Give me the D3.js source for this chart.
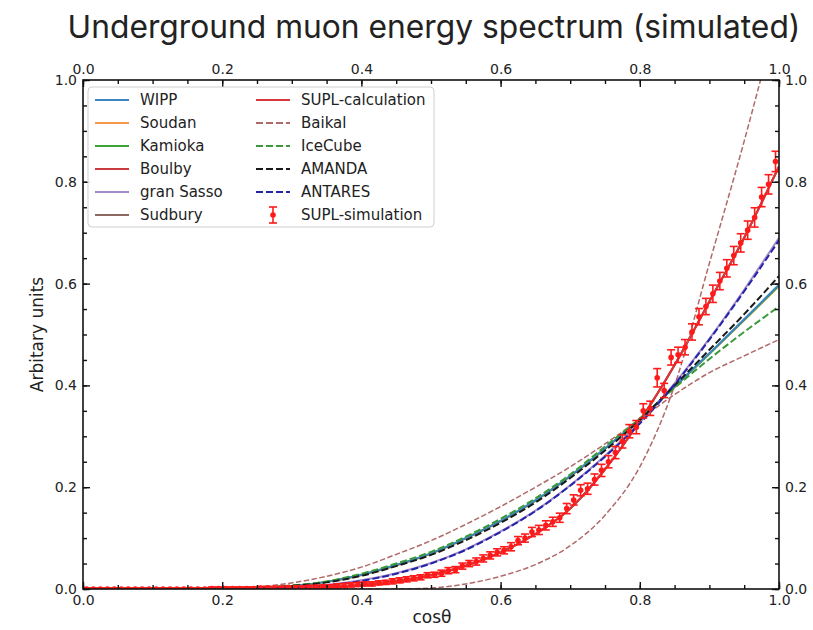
<!DOCTYPE html>
<html>
<head>
<meta charset="utf-8">
<script src="https://cdn.jsdelivr.net/npm/d3@7"></script>
<style>
  body { margin: 0; background: #fff; }
  svg { display: block; }
</style>
</head>
<body>
<svg id="chart" width="813" height="630"></svg>
<script>
// ---- data -------------------------------------------------------------
// model curves, sampled on a common cos(theta) grid
const gridX = [0, 0.05, 0.10, 0.15, 0.20, 0.25, 0.30, 0.35, 0.40, 0.45, 0.50,
               0.55, 0.60, 0.65, 0.70, 0.75, 0.80, 0.85, 0.90, 0.95, 1.00];

const wipp      = [0,0,0,0,0.0005,0.002,0.006,0.014,0.028,0.047,0.070,0.100,0.134,0.174,0.222,0.276,0.334,0.398,0.463,0.530,0.598];
const soudan    = [0,0,0,0,0.0005,0.002,0.006,0.014,0.027,0.046,0.069,0.099,0.133,0.173,0.221,0.275,0.334,0.398,0.462,0.528,0.595];
const kamioka   = [0,0,0,0,0.0005,0.002,0.006,0.014,0.028,0.047,0.070,0.100,0.134,0.174,0.222,0.276,0.334,0.397,0.462,0.529,0.596];
const boulby    = [0,0,0,0,0.0005,0.001,0.002,0.004,0.008,0.015,0.027,0.046,0.072,0.108,0.158,0.235,0.330,0.440,0.565,0.690,0.830];
const granSasso = [0,0,0,0,0.0002,0.001,0.003,0.008,0.017,0.031,0.051,0.078,0.113,0.154,0.204,0.262,0.327,0.404,0.492,0.588,0.690];
const sudbury   = [0,0,0,0,0.0005,0.001,0.002,0.004,0.008,0.015,0.027,0.046,0.072,0.108,0.158,0.235,0.330,0.440,0.565,0.690,0.830];
const suplCalc  = [0,0,0,0,0.0005,0.001,0.002,0.004,0.008,0.015,0.027,0.046,0.072,0.108,0.158,0.235,0.330,0.440,0.565,0.690,0.830];
const baikal    = [0,0,0,0,0,0,0,0,0,0,0.002,0.010,0.025,0.048,0.085,0.145,0.240,0.400,0.640,0.880,1.140];
const baikalB   = [0,0,0,0,0.001,0.004,0.012,0.025,0.043,0.068,0.095,0.127,0.162,0.200,0.240,0.285,0.333,0.382,0.425,0.458,0.490];
const iceCube   = [0,0,0,0,0.0006,0.002,0.007,0.015,0.030,0.050,0.073,0.103,0.138,0.178,0.225,0.280,0.335,0.395,0.452,0.505,0.555];
const amanda    = [0,0,0,0,0.0005,0.002,0.006,0.013,0.026,0.045,0.067,0.096,0.130,0.170,0.218,0.272,0.332,0.400,0.470,0.540,0.615];
const antares   = [0,0,0,0,0.0002,0.001,0.003,0.007,0.016,0.030,0.050,0.077,0.112,0.153,0.203,0.260,0.325,0.402,0.490,0.585,0.685];

// simulated histogram: bin centres 0.005 ... 0.995
const simX = d3.range(100).map(k => +(0.005 + 0.01 * k).toFixed(3));
const simY = [
  0,0,0,0,0,0,0,0,0,0,
  0,0,0,0,0,0,0,0,0.001,0.001,
  0.001,0.001,0.001,0.001,0.001,0.002,0.002,0.002,0.002,0.003,
  0.003,0.003,0.004,0.004,0.005,0.005,0.006,0.007,0.008,0.009,
  0.010,0.010,0.012,0.013,0.015,0.017,0.019,0.021,0.023,0.027,
  0.028,0.031,0.036,0.038,0.045,0.050,0.054,0.060,0.066,0.072,
  0.076,0.083,0.095,0.100,0.112,0.116,0.125,0.132,0.140,0.158,
  0.175,0.194,0.197,0.215,0.233,0.250,0.268,0.290,0.310,0.318,
  0.350,0.355,0.415,0.390,0.455,0.460,0.475,0.505,0.535,0.555,
  0.580,0.605,0.630,0.655,0.680,0.705,0.730,0.770,0.795,0.840
];
const simErr = [
  0.002,0.002,0.002,0.002,0.002,0.002,0.002,0.002,0.002,0.002,
  0.002,0.002,0.002,0.002,0.002,0.002,0.002,0.002,0.003,0.003,
  0.003,0.003,0.003,0.003,0.003,0.003,0.003,0.003,0.003,0.003,
  0.003,0.003,0.003,0.003,0.003,0.003,0.004,0.004,0.004,0.004,
  0.004,0.004,0.004,0.004,0.005,0.005,0.005,0.005,0.005,0.005,
  0.005,0.006,0.006,0.006,0.006,0.006,0.007,0.007,0.007,0.007,
  0.007,0.008,0.008,0.008,0.009,0.009,0.009,0.009,0.009,0.010,
  0.010,0.011,0.011,0.011,0.012,0.012,0.012,0.013,0.013,0.013,
  0.014,0.014,0.018,0.014,0.015,0.015,0.015,0.016,0.016,0.016,
  0.017,0.017,0.017,0.018,0.018,0.018,0.019,0.019,0.019,0.020
];

const tickValues = [0, 0.2, 0.4, 0.6, 0.8, 1.0];
const minorValues = d3.range(0, 1.0001, 0.05);

// ---- series styling (z = drawing order, legend = [column, row]) ----------
const series = [
  { name: "WIPP",             values: wipp,      color: "#3b86bf", dash: null,      width: 2,   z: 3,  legend: [0, 0] },
  { name: "Soudan",           values: soudan,    color: "#f39a4a", dash: null,      width: 2,   z: 1,  legend: [0, 1] },
  { name: "Kamioka",          values: kamioka,   color: "#3aa33a", dash: null,      width: 2,   z: 2,  legend: [0, 2] },
  { name: "Boulby",           values: boulby,    color: "#c83a3e", dash: null,      width: 2,   z: 4,  legend: [0, 3] },
  { name: "gran Sasso",       values: granSasso, color: "#a58ac9", dash: null,      width: 2,   z: 5,  legend: [0, 4] },
  { name: "Sudbury",          values: sudbury,   color: "#8c6a62", dash: null,      width: 2,   z: 0,  legend: [0, 5] },
  { name: "SUPL-calculation", values: suplCalc,  color: "#d9363a", dash: null,      width: 2,   z: 6,  legend: [1, 0] },
  { name: "Baikal",           values: baikal,    color: "#b06a6a", dash: "5.5,2.4", width: 1.5, z: 7,  legend: [1, 1] },
  { name: null,               values: baikalB,   color: "#b06a6a", dash: "5.5,2.4", width: 1.5, z: 8,  legend: null },
  { name: "IceCube",          values: iceCube,   color: "#3a9a3a", dash: "7,3",     width: 2,   z: 9,  legend: [1, 2] },
  { name: "AMANDA",           values: amanda,    color: "#1a1a1a", dash: "7,3",     width: 2,   z: 10, legend: [1, 3] },
  { name: "ANTARES",          values: antares,   color: "#2424a8", dash: "7,3",     width: 2,   z: 11, legend: [1, 4] }
];

// ---- layout --------------------------------------------------------------
const svg = d3.select("#chart");
const plot = { left: 83, right: 779, top: 80, bottom: 589 };
const x = d3.scaleLinear().domain([0, 1]).range([plot.left, plot.right]);
const y = d3.scaleLinear().domain([0, 1]).range([plot.bottom, plot.top]);

const tickFont = "'DejaVu Sans', sans-serif";
const fmt = d3.format(".1f");

svg.append("rect").attr("width", 813).attr("height", 630).attr("fill", "#fff");

svg.append("defs").append("clipPath").attr("id", "plot-clip")
  .append("rect")
  .attr("x", plot.left).attr("y", plot.top)
  .attr("width", plot.right - plot.left).attr("height", plot.bottom - plot.top);

// title, sized to span the figure width
const title = svg.append("text")
  .attr("x", 434).attr("y", 38)
  .attr("text-anchor", "middle")
  .attr("font-family", "Inter, 'Noto Sans', sans-serif")
  .attr("font-weight", 400)
  .attr("font-size", 28)
  .attr("fill", "#222")
  .text("Underground muon energy spectrum (simulated)");
const tLen = title.node().getComputedTextLength();
title.attr("font-size", 28 * 733 / tLen);

// ---- curves --------------------------------------------------------------
const gLines = svg.append("g").attr("clip-path", "url(#plot-clip)");
const line = d3.line()
  .x((d, i) => x(gridX[i]))
  .y(d => y(d))
  .curve(d3.curveMonotoneX);

series.slice().sort((a, b) => a.z - b.z).forEach(s => {
  gLines.append("path")
    .datum(s.values)
    .attr("d", line)
    .attr("fill", "none")
    .attr("stroke", s.color)
    .attr("stroke-width", s.width)
    .attr("stroke-dasharray", s.dash)
    .attr("stroke-linejoin", "round");
});

// ---- simulated points with error bars -----------------------------------
const simColor = "#ff1a1a";
const cap = 4;
const pts = gLines.append("g").selectAll("g")
  .data(simX.map((v, i) => ({ x: v, y: simY[i], e: simErr[i] })))
  .join("g")
  .attr("stroke", simColor).attr("stroke-width", 1.6);
pts.append("line")
  .attr("x1", d => x(d.x)).attr("x2", d => x(d.x))
  .attr("y1", d => y(d.y - d.e)).attr("y2", d => y(d.y + d.e));
pts.append("line")
  .attr("x1", d => x(d.x) - cap).attr("x2", d => x(d.x) + cap)
  .attr("y1", d => y(d.y - d.e)).attr("y2", d => y(d.y - d.e));
pts.append("line")
  .attr("x1", d => x(d.x) - cap).attr("x2", d => x(d.x) + cap)
  .attr("y1", d => y(d.y + d.e)).attr("y2", d => y(d.y + d.e));
pts.append("circle")
  .attr("cx", d => x(d.x)).attr("cy", d => y(d.y)).attr("r", 2.8)
  .attr("stroke", "none").attr("fill", simColor);

// ---- axes (ticks pointing inward on all four sides) ----------------------
function styleAxis(g) {
  g.select(".domain").remove();
  g.selectAll("line").attr("stroke", "#111").attr("stroke-width", 1.4);
  g.selectAll("text").attr("font-family", tickFont).attr("font-size", 14).attr("fill", "#222");
}
function addAxis(axisFn, scale, transform) {
  svg.append("g").attr("transform", transform)
    .call(axisFn(scale).tickValues(minorValues).tickSizeInner(-4).tickSizeOuter(0).tickFormat(""))
    .call(styleAxis);
  svg.append("g").attr("transform", transform)
    .call(axisFn(scale).tickValues(tickValues).tickSizeInner(-7).tickSizeOuter(0).tickPadding(6).tickFormat(fmt))
    .call(styleAxis);
}
addAxis(d3.axisBottom, x, `translate(0,${plot.bottom})`);
addAxis(d3.axisTop, x, `translate(0,${plot.top})`);
addAxis(d3.axisLeft, y, `translate(${plot.left},0)`);
addAxis(d3.axisRight, y, `translate(${plot.right},0)`);

svg.append("rect")
  .attr("x", plot.left).attr("y", plot.top)
  .attr("width", plot.right - plot.left).attr("height", plot.bottom - plot.top)
  .attr("fill", "none").attr("stroke", "#111").attr("stroke-width", 1.6);

// axis titles
svg.append("text")
  .attr("x", 432).attr("y", 623)
  .attr("text-anchor", "middle")
  .attr("font-family", tickFont).attr("font-size", 17).attr("fill", "#222")
  .text("cosθ");
svg.append("text")
  .attr("transform", `translate(43,${(plot.top + plot.bottom) / 2}) rotate(-90)`)
  .attr("text-anchor", "middle")
  .attr("font-family", tickFont).attr("font-size", 17).attr("fill", "#222")
  .text("Arbitary units");

// ---- legend -------------------------------------------------------------
const legend = svg.append("g");
legend.append("rect")
  .attr("x", 88).attr("y", 87).attr("width", 346).attr("height", 140)
  .attr("rx", 4).attr("fill", "#fff").attr("fill-opacity", 0.85)
  .attr("stroke", "#cfcfcf").attr("stroke-width", 1);

const colX = [95, 256];
const rowY = d => 100 + 23 * d;
series.filter(s => s.legend).forEach(s => {
  const [c, r] = s.legend;
  legend.append("line")
    .attr("x1", colX[c]).attr("x2", colX[c] + 34)
    .attr("y1", rowY(r)).attr("y2", rowY(r))
    .attr("stroke", s.color).attr("stroke-width", 2)
    .attr("stroke-dasharray", s.dash ? "7,3" : null);
  legend.append("text")
    .attr("x", colX[c] + 45).attr("y", rowY(r)).attr("dy", "0.35em")
    .attr("font-family", tickFont).attr("font-size", 15).attr("fill", "#222")
    .text(s.name);
});
// error-bar entry
const ex = colX[1] + 17, ey = rowY(5);
const eb = legend.append("g").attr("stroke", simColor).attr("stroke-width", 1.6);
eb.append("line").attr("x1", ex).attr("x2", ex).attr("y1", ey - 8).attr("y2", ey + 8);
eb.append("line").attr("x1", ex - cap).attr("x2", ex + cap).attr("y1", ey - 8).attr("y2", ey - 8);
eb.append("line").attr("x1", ex - cap).attr("x2", ex + cap).attr("y1", ey + 8).attr("y2", ey + 8);
legend.append("circle").attr("cx", ex).attr("cy", ey).attr("r", 2.8).attr("fill", simColor);
legend.append("text")
  .attr("x", colX[1] + 45).attr("y", ey).attr("dy", "0.35em")
  .attr("font-family", tickFont).attr("font-size", 15).attr("fill", "#222")
  .text("SUPL-simulation");
</script>
</body>
</html>
